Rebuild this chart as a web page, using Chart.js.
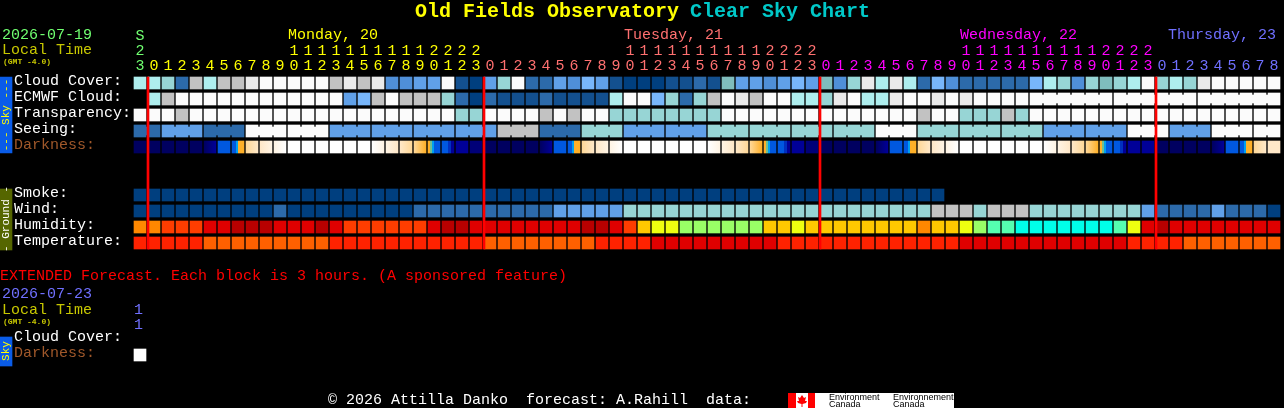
<!DOCTYPE html>
<html lang="en">
  <head>
    <meta charset="UTF-8" />
    <title>Old Fields Observatory Clear Sky Chart</title>
    <script src="https://cdn.jsdelivr.net/npm/chart.js@4"></script>
    <style>
      html, body { margin: 0; background: #000; overflow: hidden; }
      canvas { display: block; }
    </style>
  </head>
  <body>
    <canvas id="csc" width="1284" height="408"></canvas>
  <script>
    // hour of each block, first block is 23h on Sunday
    const hours = [23,
      0,1,2,3,4,5,6,7,8,9,10,11,12,13,14,15,16,17,18,19,20,21,22,23,
      0,1,2,3,4,5,6,7,8,9,10,11,12,13,14,15,16,17,18,19,20,21,22,23,
      0,1,2,3,4,5,6,7,8,9,10,11,12,13,14,15,16,17,18,19,20,21,22,23,
      0,1,2,3,4,5,6,7,8];
    const midnights = [0, 24, 48, 72];

    // levels index into cloudColors / humidityColors / tempColors
    const cloud = [8,8,7,2,9,8,9,9,10,11, 11,11,11,11,9,10,9,10,3,3,
      4,4,11,1,0,4,7,11,2,2, 4,3,5,4,1,0,0,0,1,1, 2,1,6,4,4,3,4,5,4,6,
      3,7,10,8,10,8,2,5,3,2, 2,2,2,2,5,8,7,3,7,6, 7,8,11,7,8,7,10,11,11,11,11,11];
    const ecmwf = [null,8,9,11,11,11,11,11,11,11, 11,11,11,11,11,4,5,9,11,9,
      9,9,7,2,0,2,1,1,1,2, 1,1,1,1,8,11,11,5,7,2, 7,9,11,10,9,11,11,8,8,7,
      10,11,8,8,10,11,11,10,11,10, 11,11,11,11,11,11,11,11,11,11, 11,11,11,11,11,11,11,11,11,11,11,11];
    const transparency = [11,11,11,9,11,11,11,11,11,11, 11,11,11,11,11,11,11,11,11,11,
      11,11,11,7,7,11,11,11,11,9, 11,9,11,11,7,7,7,7,7,7, 7,7,11,11,11,11,11,11,11,11,
      11,11,11,11,11,11,9,11,11,7, 7,7,9,7,11,11,11,11,11,11, 11,11,11,11,11,11,11,11,11,11,11,11];
    const seeing = [2,2, 4,4,4, 2,2,2, 11,11,11, 11,11,11, 4,4,4, 4,4,4, 4,4,4, 4,4,4, 9,9,9, 2,2,2,
      7,7,7, 4,4,4, 4,4,4, 7,7,7, 7,7,7, 7,7,7, 7,7,7, 11,11,11, 7,7,7, 7,7,7, 7,7,7,
      4,4,4, 4,4,4, 11,11,11, 4,4,4, 11,11,11, 11,11];
    const ecmwfBlocks = [[64, 69], [70, 75], [76, 81]];
    const smoke = [0,0,0,0,0,0,0,0,0,0, 0,0,0,0,0,0,0,0,0,0, 0,0,0,0,0,0,0,0,0,0,
      0,0,0,0,0,0,0,0,0,0, 0,0,0,0,0,0,0,0,0,0, 0,0,0,0,0,0,0,0];
    const wind = [0,0,0,0,0,0,0,0,0,0, 2,0,0,0,0,0,0,0,0,0, 2,2,2,2,2,2,2,2,2,2,
      4,4,4,4,4,7,7,7,7,7, 7,7,7,7,7,7,7,7,7,7, 7,7,7,7,7,7,7,9,9,9,
      7,9,9,9,7,7,7,7,7,7, 7,7,4,2,2,2,2,4,2,2,2,0];
    const humidity = [5,5,6,6,6,7,7,8,8,8, 7,7,7,8,7,6,6,6,6,6, 6,7,8,8,7,7,7,7,7,7,
      7,7,8,8,7,6,4,3,3,2, 2,2,2,2,2,4,4,3,4,4, 4,4,4,4,4,4,5,4,4,3,
      2,1,1,0,0,0,0,0,0,0, 1,3,7,8,7,7,7,7,7,7,7,7];
    const temperature = [1,1,1,1,1,2,2,2,2,2, 2,2,2,2,1,1,1,1,1,1, 1,1,1,1,1,2,2,2,2,2,
      2,2,2,1,1,1,1,0,0,0, 0,0,0,0,0,0,1,1,1,1, 1,1,1,1,1,1,1,1,1,0,
      0,0,0,0,0,0,0,0,0,0, 0,1,1,1,1,2,2,2,2,2,2,2];
    // darkness: 1 level = flat, 2 = blended, more = stripes across the block
    const darkness = [[0],[0],[0],[0],[0],[0,2],[4],[4,4,5,7,7,7],[8,9],[9,10],[10,11],
      [11],[11],[11],[11],[11],[11],[11,10],[10,9],[9,8],[8,7],[7,6,5,4,4,4],[4,4,3,2],[2],[1],
      [0],[0],[0],[0],[0,2],[4],[4,4,5,7,7,7],[8,9],[9,10],[10,11],
      [11],[11],[11],[11],[11],[11],[11,10],[10,9],[9,8],[8,7],[7,6,5,4,4,4],[4,4,3,2],[2],[1],
      [0],[0],[0],[0],[0,2],[4],[4,4,5,7,7,7],[8,9],[9,10],[10,11],
      [11],[11],[11],[11],[11],[11],[11,10],[10,9],[9,8],[8,7],[7,6,5,4,4,4],[4,4,3,2],[2],[2],
      [0],[0],[0],[0],[0,2],[4],[4,4,5,7,7,7],[8,9],[9,9]];
    const extendedDarkness = [[11]];

    const cloudColors = ["#003f7f","#13508f","#2c6aaa","#4f8fd8","#60a0e8","#78b6fa",
      "#7fbdbd","#97d5d5","#aeeeee","#c2c2c2","#eaeaea","#fbfbfb"];
    const humidityColors = ["#00ffe8","#55ffb0","#99ff66","#eeff10","#ffc800","#ff8800",
      "#ff3d00","#e00000","#b80000"];
    const tempColors = ["#e00000","#ff2200","#ff6000"];
    const darkColors = ["#000060","#000078","#000098","#0030c0","#0058e0","#00a0f0",
      "#70c090","#ffb028","#ffd898","#ffe8c8","#fff4e4","#ffffff"];

    const rowLabels = {0: "Cloud Cover:", 1: "ECMWF Cloud:", 2: "Transparency:", 3: "Seeing:", 4: "Darkness:",
      7: "Smoke:", 8: "Wind:", 9: "Humidity:", 10: "Temperature:", 16: "Cloud Cover:", 17: "Darkness:"};

    const GREEN = "#70ff70", YELLOW = "#ffff00", SALMON = "#ff7070", MAGENTA = "#ff00ff", SLATE = "#7070ff";
    const MONO = '"Liberation Mono", monospace';
    const HALF = 0.375; // half a block, in rows

    function hourColor(col) {
      if (col === 0) return GREEN;
      if (col <= 24) return YELLOW;
      if (col <= 48) return SALMON;
      if (col <= 72) return MAGENTA;
      return SLATE;
    }

    function cellRow(values, colors, row) {
      const data = [], backgroundColor = [];
      values.forEach((v, i) => {
        if (v === null) return;
        data.push({x: i, y: [row - HALF, row + HALF]});
        backgroundColor.push(colors[v]);
      });
      return {data, backgroundColor, barThickness: 12};
    }

    // small links between blocks that belong to one forecast period
    function linkRow(values, colors, row, blocks) {
      const data = [], backgroundColor = [];
      blocks.forEach(([a, b]) => {
        for (let i = a; i < b; i++) {
          data.push({x: i + 0.5, y: [row - 0.25, row + 0.25]});
          backgroundColor.push(colors[values[i]]);
        }
      });
      return {data, backgroundColor, barThickness: 2};
    }

    function darkRow(values, row) {
      return {
        data: values.map((v, i) => ({x: i, y: [row - HALF, row + HALF]})),
        barThickness: 12,
        backgroundColor: (c) => {
          const levels = values[c.dataIndex];
          if (levels.length === 1) return darkColors[levels[0]];
          const px = c.chart.scales.x.getPixelForValue(c.dataIndex);
          const g = c.chart.ctx.createLinearGradient(px - 6, 0, px + 6, 0);
          if (levels.length === 2) {
            g.addColorStop(0, darkColors[levels[0]]);
            g.addColorStop(1, darkColors[levels[1]]);
          } else {
            levels.forEach((l, k) => {
              g.addColorStop(k / levels.length, darkColors[l]);
              g.addColorStop((k + 1) / levels.length, darkColors[l]);
            });
          }
          return g;
        },
      };
    }

    const seeingBlocks = [[0, 1]];
    for (let c = 2; c < 80; c += 3) seeingBlocks.push([c, c + 2]);
    seeingBlocks.push([80, 81]);

    const SIDE_COL = -134 / 14; // side strips live left of the first block
    const datasets = [
      {
        data: midnights.map((m) => ({x: m + 4 / 7, y: [-HALF, 10 + HALF]})),
        backgroundColor: "#ff0000",
        barThickness: 2,
      },
      cellRow(cloud, cloudColors, 0),
      cellRow(ecmwf, cloudColors, 1),
      linkRow(ecmwf, cloudColors, 1, ecmwfBlocks),
      cellRow(transparency, cloudColors, 2),
      cellRow(seeing, cloudColors, 3),
      linkRow(seeing, cloudColors, 3, seeingBlocks),
      darkRow(darkness, 4),
      cellRow(smoke, cloudColors, 7),
      cellRow(wind, cloudColors, 8),
      cellRow(humidity, humidityColors, 9),
      cellRow(temperature, tempColors, 10),
      darkRow(extendedDarkness, 17),
      {data: [{x: SIDE_COL, y: [-HALF, 4 + HALF]}], backgroundColor: "#0a5ce8", barThickness: 12},
      {data: [{x: SIDE_COL, y: [7 - HALF, 10 + 0.4375]}], backgroundColor: "#556600", barThickness: 12},
      {data: [{x: SIDE_COL, y: [15.875, 17.6875]}], backgroundColor: "#0a5ce8", barThickness: 12},
    ];
    datasets.forEach((d) => (d.clip = false));

    const textPlugin = {
      id: "cscText",
      afterDraw(chart) {
        const c = chart.ctx;
        const text = (s, x, y, color, font) => {
          c.font = font || '15px ' + MONO;
          c.fillStyle = color;
          c.fillText(s, x, y);
        };
        const side = (s, x, y, color) => {
          c.save();
          c.translate(x, y);
          c.rotate(-Math.PI / 2);
          c.textAlign = "center";
          c.font = '11px ' + MONO;
          c.fillStyle = color;
          c.fillText(s, 0, 0);
          c.restore();
        };
        c.save();
        c.textBaseline = "middle";
        c.textAlign = "left";
        const colX = (v) => chart.scales.x.getPixelForValue(v) - 6;

        text("Old Fields Observatory", 415, 12, YELLOW, 'bold 20px ' + MONO);
        text("Clear Sky Chart", 690, 12, "#00c8c8", 'bold 20px ' + MONO);

        text("2026-07-19", 2, 35, GREEN);
        text("Local Time", 2, 50, "#c8c800");
        text("(GMT -4.0)", 3, 62, "#c8c800", 'bold 8px ' + MONO);
        text("Monday, 20", colX(11), 35, YELLOW);
        text("Tuesday, 21", colX(35), 35, SALMON);
        text("Wednesday, 22", colX(59), 35, MAGENTA);
        text("Thursday, 23", colX(73.86), 35, SLATE);

        text("EXTENDED Forecast. Each block is 3 hours. (A sponsored feature)", 0, 276, "#ff0000");
        text("2026-07-23", 2, 294, SLATE);
        text("Local Time", 2, 310, "#c8c800");
        text("(GMT -4.0)", 3, 322, "#c8c800", 'bold 8px ' + MONO);
        text("1", colX(0), 310, SLATE);
        text("1", colX(0), 325, SLATE);

        side("--- Sky ---", 6, 115, YELLOW);
        side("- Ground -", 6, 219, "#ffffff");
        side("Sky", 6, 351, YELLOW);

        text("\u00a9 2026 Attilla Danko  forecast: A.Rahill  data:", 328, 400, "#ffffff");

        // Environment Canada logo
        c.fillStyle = "#ffffff";
        c.fillRect(788, 393, 166, 15);
        c.fillStyle = "#ff0000";
        c.fillRect(788, 393, 8, 15);
        c.fillRect(808, 393, 7, 15);
        c.beginPath();
        [[802,395],[804,398],[806,397],[805,401],[807,401],[806,403],[802.5,404],[802.5,407],[801.5,407],[801.5,404],[798,403],[797,401],[799,401],[798,397],[800,398]]
          .forEach(([x, y], i) => (i ? c.lineTo(x, y) : c.moveTo(x, y)));
        c.fill();
        const small = '9px "Liberation Sans", sans-serif';
        text("Environment", 829, 398, "#000000", small);
        text("Canada", 829, 405, "#000000", small);
        text("Environnement", 893, 398, "#000000", small);
        text("Canada", 893, 405, "#000000", small);
        c.restore();
      },
    };

    // tick labels must not push the plot area inwards
    function noPadding(s) {
      s.paddingLeft = s.paddingRight = s.paddingTop = s.paddingBottom = 0;
    }

    new Chart(document.getElementById("csc"), {
      type: "bar",
      data: {datasets},
      plugins: [textPlugin],
      options: {
        responsive: false,
        animation: false,
        devicePixelRatio: 1,
        layout: {padding: {left: 14, top: 0, right: 0, bottom: 0}},
        datasets: {bar: {grouped: false, borderWidth: 0}},
        plugins: {legend: {display: false}, tooltip: {enabled: false}},
        scales: {
          x: {
            type: "linear",
            position: "top",
            offset: false,
            min: -12 / 14,
            max: 1144 / 14,
            grid: {display: false, drawTicks: false},
            border: {display: false},
            afterFit: (s) => { s.height = 75; noPadding(s); },
            afterBuildTicks: (s) => { s.ticks = hours.map((h, i) => ({value: i})); },
            ticks: {
              autoSkip: false,
              maxRotation: 0,
              minRotation: 0,
              padding: 1,
              font: {family: "Liberation Mono", size: 15, lineHeight: 1},
              color: (c) => hourColor(c.tick.value),
              callback: (v) => {
                const h = hours[v];
                if (v === 0) return ["S", "2", "3"];
                return h >= 10 ? [String(Math.floor(h / 10)), String(h % 10)] : String(h);
              },
            },
          },
          y: {
            type: "linear",
            reverse: true,
            min: -0.5,
            max: 20.3125,
            grid: {display: false, drawTicks: false},
            border: {display: false},
            afterFit: (s) => { s.width = 114; noPadding(s); },
            afterBuildTicks: (s) => { s.ticks = Object.keys(rowLabels).map((r) => ({value: +r})); },
            ticks: {
              autoSkip: false,
              crossAlign: "far",
              labelOffset: -2,
              font: {family: "Liberation Mono", size: 15},
              color: (c) => (rowLabels[c.tick.value] === "Darkness:" ? "#a0582a" : "#ffffff"),
              callback: (v) => rowLabels[v],
            },
          },
        },
      },
    });
  </script>
  </body>
</html>
